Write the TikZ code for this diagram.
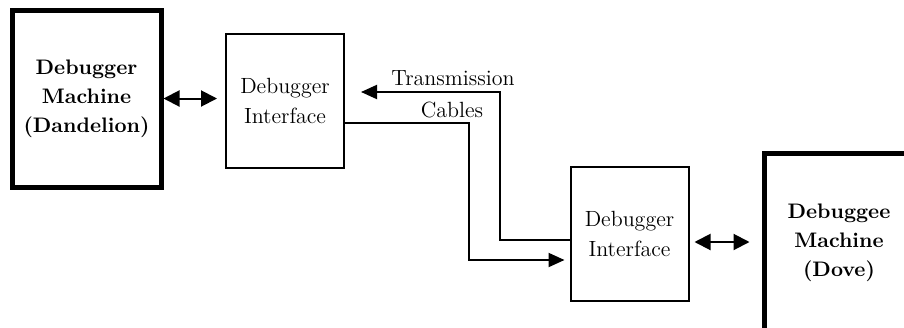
\documentclass[tikz,border=0pt]{standalone}
\usepackage{amsmath}
\usepackage{tikz}
\usetikzlibrary{arrows.meta}

\begin{document}
\begin{tikzpicture}[x=0.5pt, y=-0.5pt,
		machine/.style={draw, line width=2.5pt, align=center, inner sep=0pt,
			font=\fontsize{10.5}{14.5}\selectfont\bfseries},
		iface/.style={draw, line width=1pt, align=center, inner sep=0pt,
			minimum width=59pt, minimum height=67pt,
			font=\fontsize{11}{15}\selectfont},
		cable/.style={line width=1pt, -{Triangle[length=8pt, width=7pt]}},
		link/.style={line width=1pt, {Triangle[length=8pt, width=8pt]}-{Triangle[length=8pt, width=8pt]}},
		cabletext/.style={font=\fontsize{11}{14.5}\selectfont, inner sep=0pt}]
	\useasboundingbox (0,0) rectangle (904,327);
	
	% The two machines
	\node[machine, minimum width=74.5pt, minimum height=88.5pt] (dandelion) at (86.5,98.5) {Debugger\\Machine\\(Dandelion)};
	\node[machine, minimum width=75pt, minimum height=90pt] (dove) at (839,243) {Debuggee\\Machine\\(Dove)};
	
	% The two interfaces
	\node[iface] (iface1) at (285,100.5) {Debugger\\Interface};
	\node[iface] (iface2) at (629.5,233.5) {Debugger\\Interface};
	
	% Machine to interface links
	\draw[link, shorten >=4pt] (dandelion.east) -- (dandelion.east -| iface1.west);
	\draw[link, shorten <=2.5pt, shorten >=6pt] ([yshift=-4.25pt]iface2.east) -- ([yshift=-4.25pt]iface2.east -| dove.west);
	
	% Transmission cables between the interfaces
	\draw[cable] ([yshift=-3.25pt]iface2.west) -| (500,92) -- ([xshift=8pt]iface1.east |- 500,92);
	\draw[cable] ([yshift=-11.25pt]iface1.east) -| (469,260) -- ([xshift=-2.5pt]iface2.west |- 469,260);
	\node[cabletext] (trans) at (453,78) {Transmission}; % cable label, top line
	\node[cabletext] (cables) at (452,110) {Cables}; % cable label, bottom line
\end{tikzpicture}
\end{document}
